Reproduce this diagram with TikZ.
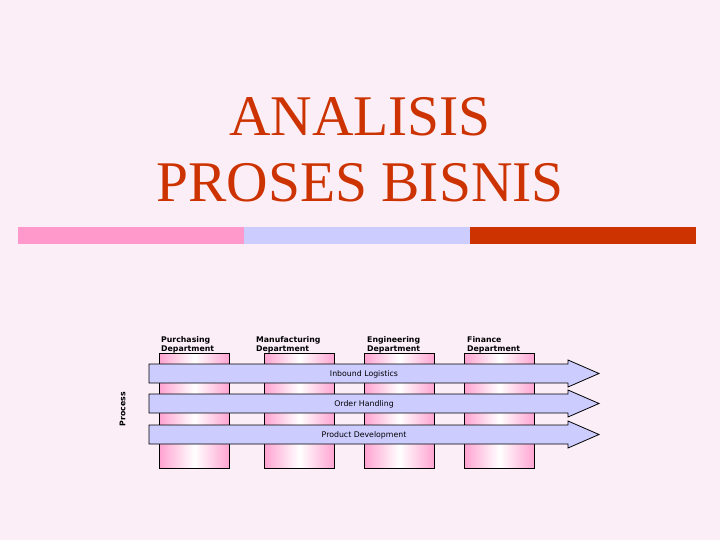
\documentclass[tikz,border=0pt]{standalone}
\usepackage{fontspec}
\setmainfont{Liberation Serif}
\newfontfamily\labfont{DejaVu Sans}
\definecolor{bgpink}{HTML}{FCEEF7}
\definecolor{barpink}{HTML}{FF99CC}
\definecolor{lav}{HTML}{CCCCFF}
\definecolor{titred}{HTML}{CC3300}
\tikzset{
  titletext/.style={text=titred, font=\fontsize{57.5}{66}\selectfont, inner sep=0pt, anchor=base},
  colbox/.style={draw=black, line width=0.8pt, left color=barpink!90, right color=barpink!90, middle color=white, minimum width=70pt, minimum height=115pt, inner sep=0pt, anchor=north west},
  arrowbox/.style={draw=black, line width=0.8pt, fill=lav, line join=miter},
  deptlabel/.style={font=\labfont\bfseries\fontsize{7.8}{9}\selectfont, align=left, inner sep=0pt, anchor=north west},
  arrowlabel/.style={font=\labfont\fontsize{7.8}{9}\selectfont, inner sep=0pt},
  bar/.style={draw=none, minimum width=226pt, minimum height=17pt, inner sep=0pt, anchor=north west}
}
\begin{document}
\begin{tikzpicture}[x=1pt,y=-1pt]
\fill[bgpink] (0,0) rectangle (720,540);
\useasboundingbox (0,0) rectangle (720,540);
% title
\node[titletext] (t1) at (360,136) {ANALISIS};
\node[titletext] (t2) at (360,202) {PROSES BISNIS};
% bars
\node[bar, fill=barpink] (b1) at (18,227) {};
\node[bar, fill=lav] (b2) at (244,227) {};
\node[bar, fill=titred] (b3) at (470,227) {};
% columns
\node[colbox] (c1) at (159,353) {};
\node[colbox] (c2) at (264,353) {};
\node[colbox] (c3) at (364,353) {};
\node[colbox] (c4) at (464,353) {};
% department labels
\node[deptlabel] (d1) at (161,336) {Purchasing\\Department};
\node[deptlabel] (d2) at (256,336) {Manufacturing\\Department};
\node[deptlabel] (d3) at (367,336) {Engineering\\Department};
\node[deptlabel] (d4) at (467,336) {Finance\\Department};
% arrows
\draw[arrowbox] (149,364) -- (568,364) -- (568,360) -- (599,373.5) -- (568,387) -- (568,383) -- (149,383) -- cycle;
\draw[arrowbox] (149,394) -- (568,394) -- (568,390) -- (599,403.5) -- (568,417) -- (568,413) -- (149,413) -- cycle;
\draw[arrowbox] (149,425) -- (568,425) -- (568,421) -- (599,434.5) -- (568,448) -- (568,444) -- (149,444) -- cycle;
\node[arrowlabel] (a1) at (364,374.5) {Inbound Logistics};
\node[arrowlabel] (a2) at (364,404.5) {Order Handling};
\node[arrowlabel] (a3) at (364,435) {Product Development};
\node[arrowlabel, font=\labfont\bfseries\fontsize{7.8}{9}\selectfont, rotate=90] (p) at (122.5,409) {Process};
\end{tikzpicture}
\end{document}
